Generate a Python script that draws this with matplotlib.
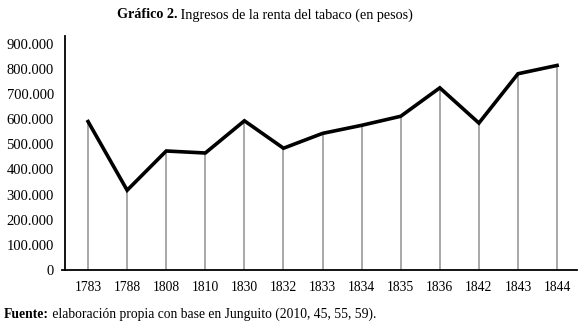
import matplotlib
matplotlib.use("Agg")
import matplotlib.pyplot as plt
from matplotlib.ticker import FuncFormatter

years = ['1783', '1788', '1808', '1810', '1830', '1832', '1833',
         '1834', '1835', '1836', '1842', '1843', '1844']
ingresos = [590000, 317000, 473000, 465000, 593000, 484000, 543000,
            575000, 611000, 724000, 584000, 780000, 813000]
yticks = [0, 100000, 200000, 300000, 400000, 500000, 600000, 700000, 800000, 900000]

plt.rcParams['font.family'] = ['Liberation Serif', 'DejaVu Serif']

fig = plt.figure(figsize=(5.8, 3.27), dpi=100)
ax = fig.add_axes([65 / 580, 57 / 327, 512 / 580, 234 / 327])

x = list(range(len(years)))
ax.vlines(x, 0, ingresos, color='#9a9a9a', linewidth=1.2, zorder=1)
ax.plot(x, ingresos, color='black', linewidth=2.6, solid_joinstyle='miter', zorder=2)

ax.set_xlim(-0.59, len(years) - 1 + 0.51)
ax.set_ylim(0, 930000)
ax.set_xticks(x)
ax.set_xticklabels(years, fontsize=9.8)
ax.set_yticks(yticks)
ax.yaxis.set_major_formatter(FuncFormatter(lambda v, p: '0' if v == 0 else f'{int(v):,}'.replace(',', '.')))
ax.tick_params(axis='y', labelsize=10.5, length=0, pad=8)
ax.tick_params(axis='x', length=0, pad=8)

for s in ['top', 'right']:
    ax.spines[s].set_visible(False)
ax.spines['left'].set_linewidth(1.3)
ax.spines['bottom'].set_linewidth(1.3)
ax.plot([-0.59 - 0.07, -0.59], [0, 0], color='black', lw=1.3, clip_on=False)


def two_part(xpx, ypx, bold, rest, size, ha='left'):
    r = fig.canvas.get_renderer()
    t1 = fig.text(0, 0, bold, fontsize=size, fontweight='bold', va='center')
    t2 = fig.text(0, 0, ' ' + rest, fontsize=size, va='center')
    w1 = t1.get_window_extent(r).width
    w2 = t2.get_window_extent(r).width
    x0 = xpx - (w1 + w2) / 2 if ha == 'center' else xpx
    t1.set_position((x0 / 580, 1 - ypx / 327))
    t2.set_position(((x0 + w1) / 580, 1 - ypx / 327))


fig.canvas.draw()
two_part(265, 15, 'Gráfico 2.', 'Ingresos de la renta del tabaco (en pesos)', 10.2, ha='center')
two_part(4, 314, 'Fuente:', 'elaboración propia con base en Junguito (2010, 45, 55, 59).', 9.8)

fig.savefig('out.png', dpi=100)
